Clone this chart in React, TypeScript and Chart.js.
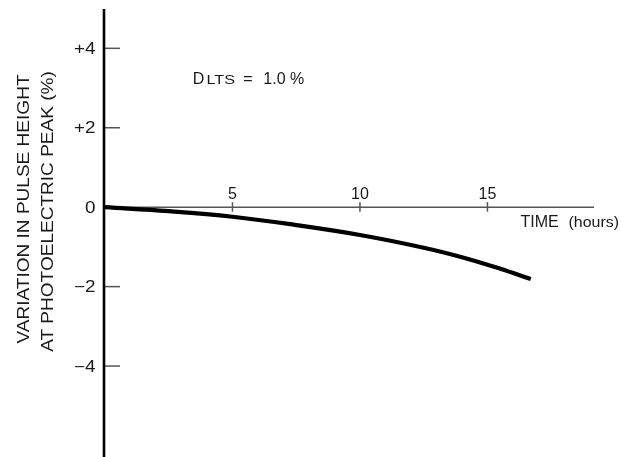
import React, { useEffect, useRef } from "react";
import { Chart, registerables } from "chart.js";

Chart.register(...registerables);

// ---- data ----
const timeHours = [0, 2.5, 5, 7.5, 10, 12.5, 14, 15.5, 16.7];
const variationPct = [0, -0.1, -0.24, -0.45, -0.7, -1.02, -1.26, -1.55, -1.81];

const yTickValues = [4, 2, 0, -2, -4];
const yTickLabels = ["+4", "+2", "0", "\u22122", "\u22124"];
const xTickValues = [5, 10, 15];
const xTickLabels = ["5", "10", "15"];

const yTitleLines = ["VARIATION IN PULSE HEIGHT", "AT PHOTOELECTRIC PEAK (%)"];
const xTitleMain = "TIME";
const xTitleUnit = "(hours)";
const noteParts = ["D", "LTS", "=", "1.0", "%"];

const X_MIN = 0;
const X_MAX = 19.18;
const Y_MIN = -6.29;
const Y_MAX = 4.99;

const FONT = "'Liberation Sans', Arial, Helvetica, sans-serif";
const TEXT = "#1a1a1a";

function drawText(
  ctx: CanvasRenderingContext2D,
  text: string,
  x: number,
  y: number,
  font: string,
  align: CanvasTextAlign,
  sx = 1,
  angle = 0
) {
  ctx.save();
  ctx.font = font;
  ctx.textAlign = align;
  ctx.textBaseline = "alphabetic";
  ctx.translate(x, y);
  if (angle) ctx.rotate(angle);
  ctx.scale(sx, 1);
  ctx.fillText(text, 0, 0);
  ctx.restore();
}

const axesPlugin = {
  id: "customAxes",
  beforeDatasetsDraw(chart: any) {
    const { ctx, chartArea, scales } = chart;
    const xs = scales.x;
    const ys = scales.y;
    const x0 = xs.getPixelForValue(0);
    const y0 = ys.getPixelForValue(0);
    ctx.save();
    ctx.lineCap = "butt";
    ctx.strokeStyle = "#555";
    ctx.lineWidth = 1.5;
    ctx.beginPath();
    ctx.moveTo(x0, y0);
    ctx.lineTo(chartArea.right, y0);
    ctx.stroke();
    xTickValues.forEach((v) => {
      const px = xs.getPixelForValue(v);
      ctx.beginPath();
      ctx.moveTo(px, y0 - 5);
      ctx.lineTo(px, y0 + 4.5);
      ctx.stroke();
    });
    yTickValues
      .filter((v) => v !== 0)
      .forEach((v) => {
        const py = ys.getPixelForValue(v);
        ctx.beginPath();
        ctx.moveTo(x0, py);
        ctx.lineTo(x0 + 15, py);
        ctx.stroke();
      });
    ctx.strokeStyle = "#000";
    ctx.lineWidth = 2.6;
    ctx.beginPath();
    ctx.moveTo(x0 - 1, chartArea.top);
    ctx.lineTo(x0 - 1, chartArea.bottom);
    ctx.stroke();
    ctx.restore();
  },
  afterDraw(chart: any) {
    const { ctx, scales } = chart;
    const xs = scales.x;
    const ys = scales.y;
    const x0 = xs.getPixelForValue(0);
    const y0 = ys.getPixelForValue(0);
    ctx.save();
    ctx.fillStyle = TEXT;

    // y tick labels
    yTickValues.forEach((v, i) => {
      const py = ys.getPixelForValue(v);
      drawText(ctx, yTickLabels[i], x0 - 9.5, py + 5.7, `16px ${FONT}`, "right", 1.18);
    });

    // x tick labels above the axis
    xTickValues.forEach((v, i) => {
      const px = xs.getPixelForValue(v);
      drawText(ctx, xTickLabels[i], px, y0 - 8.5, `16px ${FONT}`, "center", 1);
    });

    // x title
    drawText(ctx, xTitleMain, 520.5, y0 + 19.5, `16px ${FONT}`, "left", 1);
    drawText(ctx, xTitleUnit, 568.5, y0 + 19.5, `14.5px ${FONT}`, "left", 1.1);

    // note D_LTS = 1.0 %
    drawText(ctx, noteParts[0], 192.7, 83.7, `16px ${FONT}`, "left", 1);
    drawText(ctx, noteParts[1], 206.5, 83.7, `12px ${FONT}`, "left", 1.35);
    drawText(ctx, noteParts[2], 243.3, 83.7, `16px ${FONT}`, "left", 1);
    drawText(ctx, noteParts[3], 263.3, 83.7, `16px ${FONT}`, "left", 1);
    drawText(ctx, noteParts[4], 290, 83.7, `16px ${FONT}`, "left", 1);

    // y title (rotated, two lines)
    const baselines = [28.6, 53.2];
    const centers = [209, 211.5];
    yTitleLines.forEach((line, i) => {
      drawText(ctx, line, baselines[i], centers[i], `17px ${FONT}`, "center", 1.12, -Math.PI / 2);
    });
    ctx.restore();
  },
};

export default function App() {
  const canvasRef = useRef<HTMLCanvasElement | null>(null);

  useEffect(() => {
    const canvas = canvasRef.current;
    if (!canvas) return;
    const chart = new Chart(canvas, {
      type: "line",
      data: {
        datasets: [
          {
            label: "Variation",
            data: timeHours.map((t, i) => ({ x: t, y: variationPct[i] })),
            borderColor: "#000",
            borderWidth: 4.2,
            tension: 0.4,
            pointRadius: 0,
            fill: false,
            borderCapStyle: "butt",
          },
        ],
      },
      options: {
        responsive: false,
        animation: false,
        devicePixelRatio: 1,
        layout: { padding: { left: 105, right: 27, top: 9, bottom: 0 } },
        plugins: {
          legend: { display: false },
          tooltip: { enabled: false },
        },
        scales: {
          x: { type: "linear", min: X_MIN, max: X_MAX, display: false },
          y: { type: "linear", min: Y_MIN, max: Y_MAX, display: false },
        },
      },
      plugins: [axesPlugin],
    });
    return () => chart.destroy();
  }, []);

  return (
    <div style={{ position: "fixed", left: 0, top: 0, width: 621, height: 457, background: "#fff" }}>
      <canvas ref={canvasRef} width={621} height={457} style={{ width: 621, height: 457, display: "block" }} />
    </div>
  );
}
